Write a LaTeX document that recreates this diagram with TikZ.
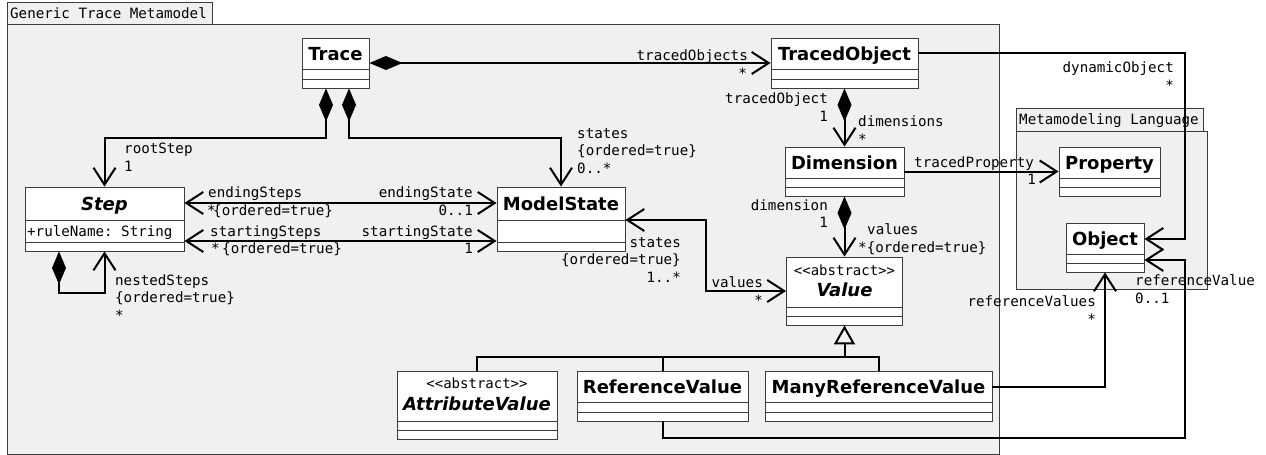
\documentclass[tikz,border=0pt]{standalone}
\usepackage{fontspec}
\setmainfont{DejaVu Sans}
\setsansfont{DejaVu Sans}
\setmonofont{DejaVu Sans Mono}
\usetikzlibrary{arrows.meta,fit}
\definecolor{pkgfill}{HTML}{F0F0F0}
\definecolor{boxline}{HTML}{3C3C3C}
\tikzset{
 pkg/.style={draw=boxline, fill=pkgfill, line width=0.8pt},
 classbox/.style={draw=boxline, fill=white, line width=0.9pt, inner sep=0pt},
 classline/.style={draw=boxline, line width=0.9pt},
 cname/.style={font=\bfseries\fontsize{18}{20}\selectfont, anchor=base, inner sep=0pt},
 cabs/.style={font=\bfseries\itshape\fontsize{18}{20}\selectfont, anchor=base, inner sep=0pt},
 lbl/.style={font=\ttfamily\fontsize{14.2}{17}\selectfont, inner sep=0pt},
 stereo/.style={font=\ttfamily\fontsize{14}{17}\selectfont, anchor=base, inner sep=0pt},
 conn/.style={line width=2pt, draw=black},
 dia/.tip={Diamond[length=33pt,width=14pt]},
 >={Straight Barb[length=17pt,width=22pt]},
 gen/.tip={Triangle[open,length=19pt,width=21pt]},
}
\newcommand\umlclass[7]{%
 \coordinate (#1-nw) at (#2,#3);
 \coordinate (#1-se) at (#4,#5);
 \node[classbox, fit=(#1-nw)(#1-se)] (#1) {};
 \draw[classline] (#1.west |- 0,#6) -- (#1.east |- 0,#6);
 \draw[classline] (#1.west |- 0,#7) -- (#1.east |- 0,#7);
}
\begin{document}
\begin{tikzpicture}[x=1pt,y=-1pt]
\useasboundingbox (0,0) rectangle (1266,455);
% packages
\draw[pkg] (7,24) rectangle (999,454);
\draw[pkg] (7,2) rectangle (212,24);
\node[lbl, anchor=base west] (pkgA) at (10,18) {Generic Trace Metamodel};
\draw[pkg] (1016,131) rectangle (1207,289);
\draw[pkg] (1016,108) rectangle (1203,131);
\node[lbl, anchor=base west] (pkgB) at (1019,124) {Metamodeling Language};
% classes
\umlclass{trace}{302}{38}{369}{88}{69}{79}
\node[cname] (trace-n) at (335.5,60.5) {Trace};
\umlclass{tobj}{771}{38}{918}{88}{69}{79}
\node[cname] (tobj-n) at (844.5,60.5) {TracedObject};
\umlclass{dim}{785}{147}{904}{196}{178}{187}
\node[cname] (dim-n) at (844.5,169) {Dimension};
\umlclass{prop}{1059}{147}{1160}{196}{178}{187}
\node[cname] (prop-n) at (1109.5,169) {Property};
\umlclass{obj}{1066}{223}{1144}{272}{254}{263}
\node[cname] (obj-n) at (1105,245) {Object};
\umlclass{step}{25}{187}{184}{251}{220}{242}
\node[cabs] (step-n) at (104.5,210) {Step};
\node[lbl, anchor=base west] (step-a) at (27,236) {+ruleName: String};
\umlclass{mstate}{497}{187}{625}{251}{220}{242}
\node[cname] (mstate-n) at (561,210) {ModelState};
\umlclass{value}{786.5}{257}{902.5}{325}{307}{316}
\node[stereo] (value-s) at (844.5,275) {<<abstract>>};
\node[cabs] (value-n) at (844.5,296) {Value};
\umlclass{av}{397}{371}{557}{439}{421}{430}
\node[stereo] (av-s) at (477,388) {<<abstract>>};
\node[cabs] (av-n) at (477,410) {AttributeValue};
\umlclass{rv}{577}{371}{748}{421}{402}{412}
\node[cname] (rv-n) at (662.5,393) {ReferenceValue};
\umlclass{mrv}{765}{371}{992}{421}{402}{412}
\node[cname] (mrv-n) at (878.5,393) {ManyReferenceValue};
% connector turning points
\coordinate (r1) at (326,138);
\coordinate (s1) at (349,138);
\coordinate (n1) at (59,293);
\coordinate (n2) at (104.5,293);
\coordinate (v0) at (706,220);
\coordinate (v1) at (706,291);
\coordinate (d1) at (1185,53);
\coordinate (d2) at (1185,239);
\coordinate (e1) at (662.5,438);
\coordinate (e2) at (1185,438);
\coordinate (e3) at (1185,260);
\coordinate (f1) at (1105,387);
\coordinate (g0) at (844.5,357);
\coordinate (h1) at (0,203);
\coordinate (h2) at (0,241);
% connectors
\draw[conn, dia->] (trace) -- (tobj);
\draw[conn, dia->] (trace.south -| r1) -- (r1) -| (step.north);
\draw[conn, dia->] (trace.south -| s1) -- (s1) -| (mstate.north);
\draw[conn, <->] (step.east |- h1) -- (mstate.west |- h1);
\draw[conn, <->] (step.east |- h2) -- (mstate.west |- h2);
\draw[conn, dia->] (step.south -| n1) -- (n1) -- (n2) -- (step.south -| n2);
\draw[conn, <->] (mstate.east |- v0) -- (v0) -- (v1) -- (value.west |- v1);
\draw[conn, dia->] (tobj.south) -- (dim.north);
\draw[conn, dia->] (dim.south) -- (value.north);
\draw[conn, ->] (dim) -- (prop);
\draw[conn, ->] (tobj.east |- d1) -- (d1) -- (d2) -- (obj.east |- d2);
\draw[conn, ->] (rv.south) -- (e1) -- (e2) -- (e3) -- (obj.east |- e3);
\draw[conn, ->] (mrv.east |- f1) -- (f1) -- (obj.south);
\draw[conn, gen-] (value.south) -- (g0);
\draw[conn] (av.north) -- (av.north |- g0) -- (mrv.north |- g0) -- (mrv.north);
\draw[conn] (rv.north) -- (rv.north |- g0);
% labels
\node[lbl, anchor=base east] (l-to1) at (748,60) {tracedObjects};
\node[lbl, anchor=base east] (l-to2) at (747,78) {*};
\node[lbl, anchor=base west] (l-rs1) at (124,153) {rootStep};
\node[lbl, anchor=base west] (l-rs2) at (124,171) {1};
\node[lbl, anchor=base west] (l-st1) at (577,138) {states};
\node[lbl, anchor=base west] (l-st2) at (577,155.5) {\{ordered=true\}};
\node[lbl, anchor=base west] (l-st3) at (577,173) {0..*};
\node[lbl, anchor=base west] (l-es1) at (208,197) {endingSteps};
\node[lbl, anchor=base west] (l-es2) at (207,215) {*};
\node[lbl, anchor=base west] (l-es3) at (213,215) {\{ordered=true\}};
\node[lbl, anchor=base east] (l-eS1) at (473,197) {endingState};
\node[lbl, anchor=base east] (l-eS2) at (473,215) {0..1};
\node[lbl, anchor=base west] (l-ss1) at (210,236) {startingSteps};
\node[lbl, anchor=base west] (l-ss2) at (211,253) {*};
\node[lbl, anchor=base west] (l-ss3) at (222,253) {\{ordered=true\}};
\node[lbl, anchor=base east] (l-sS1) at (473,236) {startingState};
\node[lbl, anchor=base east] (l-sS2) at (473,253) {1};
\node[lbl, anchor=base west] (l-ns1) at (115,285) {nestedSteps};
\node[lbl, anchor=base west] (l-ns2) at (115,302.5) {\{ordered=true\}};
\node[lbl, anchor=base west] (l-ns3) at (115,320) {*};
\node[lbl, anchor=base east] (l-ms1) at (681,247) {states};
\node[lbl, anchor=base east] (l-ms2) at (681,264.5) {\{ordered=true\}};
\node[lbl, anchor=base east] (l-ms3) at (681,282) {1..*};
\node[lbl, anchor=base east] (l-mv1) at (763,287) {values};
\node[lbl, anchor=base east] (l-mv2) at (763,305) {*};
\node[lbl, anchor=base east] (l-td1) at (828,103) {tracedObject};
\node[lbl, anchor=base east] (l-td2) at (828,121) {1};
\node[lbl, anchor=base west] (l-td3) at (858,126.5) {dimensions};
\node[lbl, anchor=base west] (l-td4) at (858,144) {*};
\node[lbl, anchor=base east] (l-dv1) at (828,210) {dimension};
\node[lbl, anchor=base east] (l-dv2) at (828,227) {1};
\node[lbl, anchor=base west] (l-dv3) at (867,234) {values};
\node[lbl, anchor=base west] (l-dv4) at (858,252) {*\{ordered=true\}};
\node[lbl, anchor=base west] (l-tp1) at (914,167) {tracedProperty};
\node[lbl, anchor=base east] (l-tp2) at (1036,184) {1};
\node[lbl, anchor=base east] (l-do1) at (1174,72) {dynamicObject};
\node[lbl, anchor=base east] (l-do2) at (1174,90) {*};
\node[lbl, anchor=base west] (l-rv1) at (1135,285) {referenceValue};
\node[lbl, anchor=base west] (l-rv2) at (1135,303) {0..1};
\node[lbl, anchor=base east] (l-rvs1) at (1096,306) {referenceValues};
\node[lbl, anchor=base east] (l-rvs2) at (1096,324) {*};
\end{tikzpicture}
\end{document}
